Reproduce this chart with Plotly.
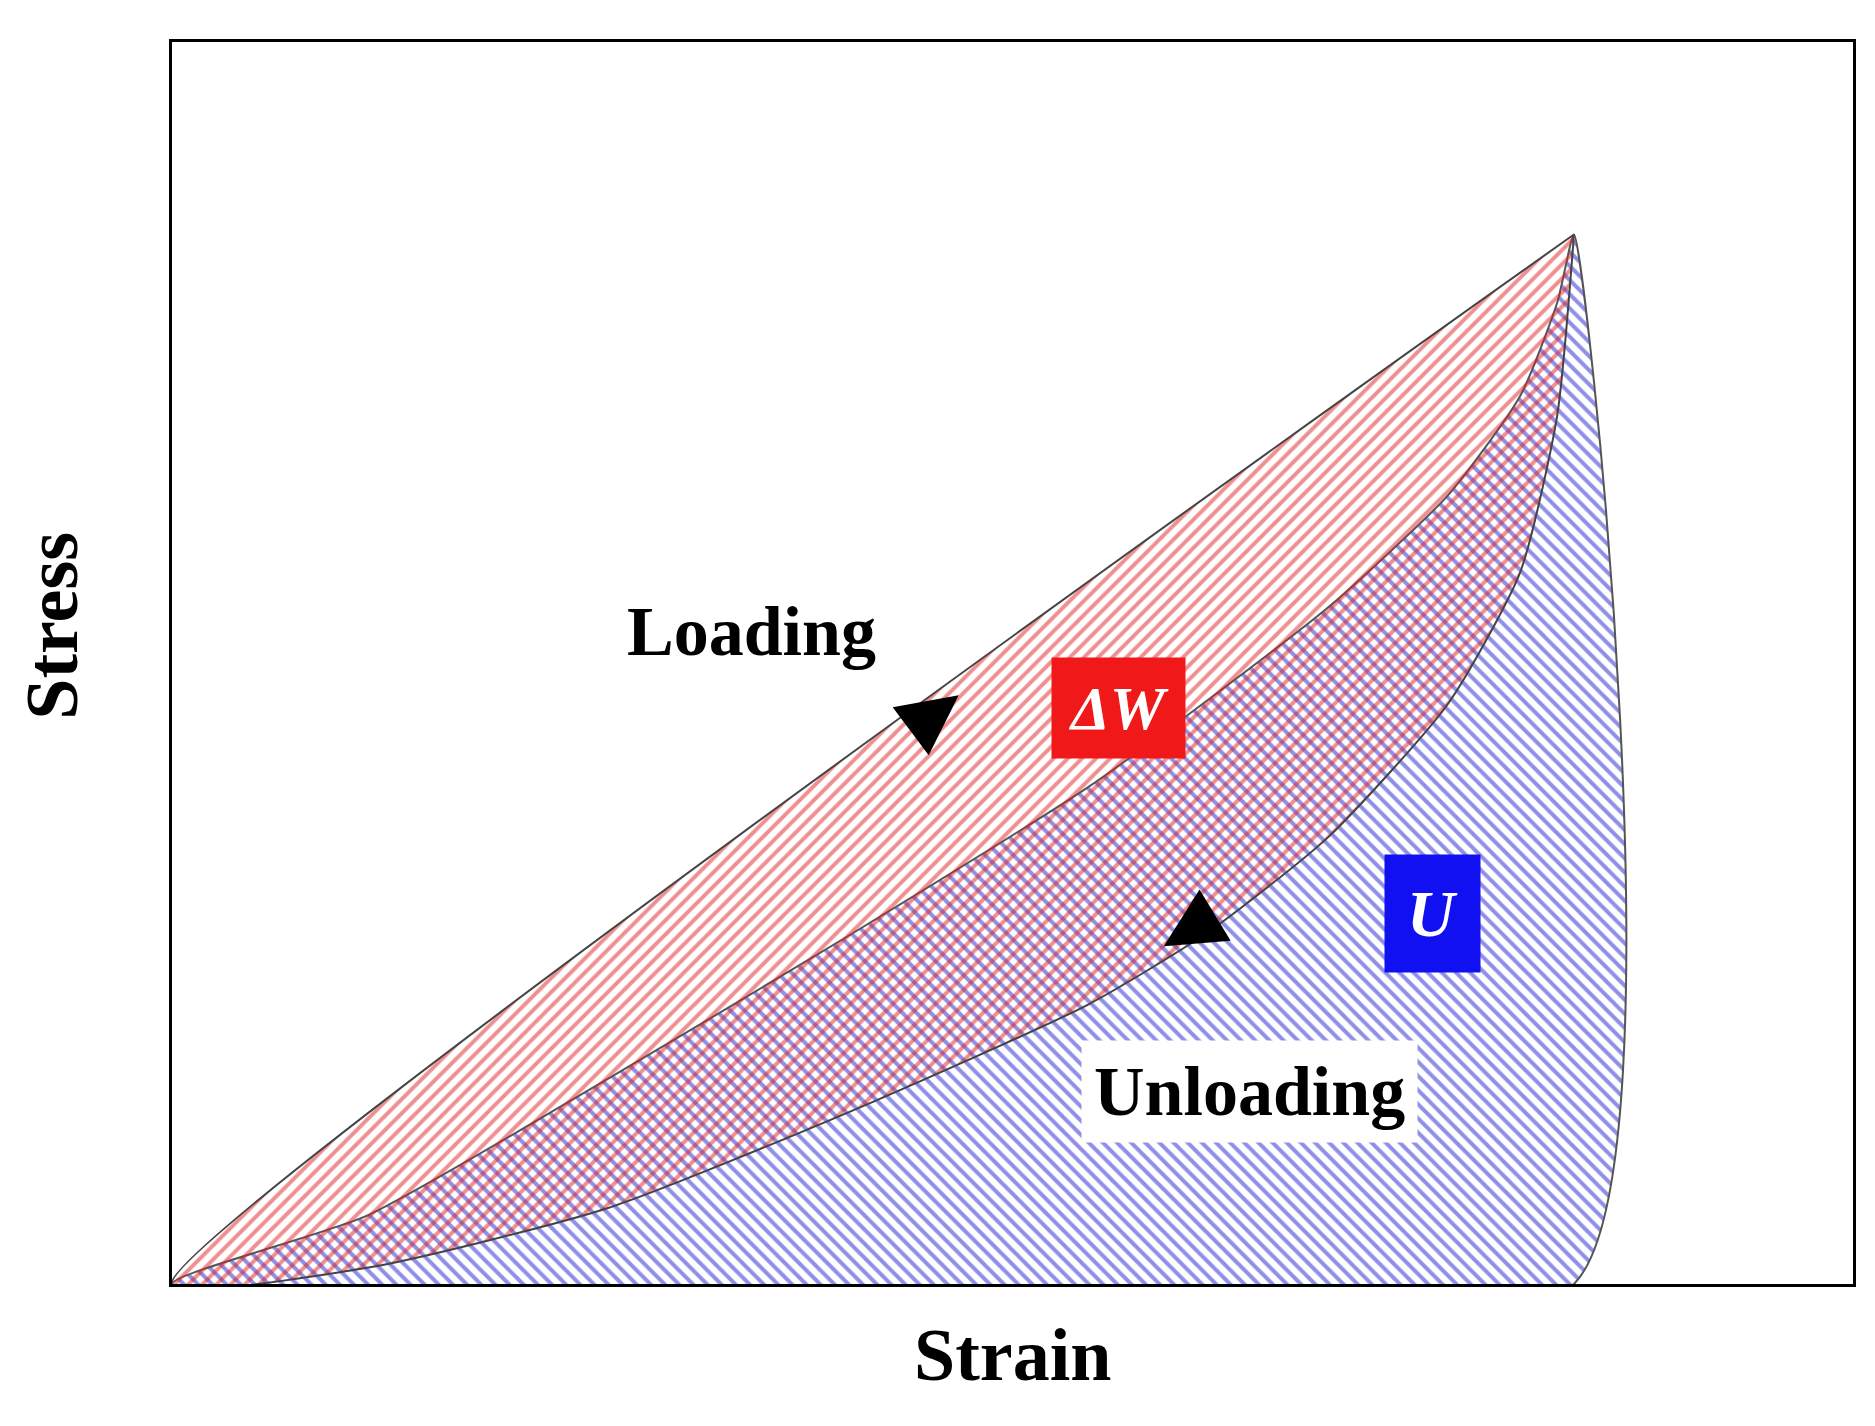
import plotly.graph_objects as go

# strain / stress values (axes 0..1)
peak_x = 0.834
peak_y = 0.845
curve_x = [0, 0.116, 0.259, 0.402, 0.545, 0.616, 0.688, 0.759, 0.802, 0.824, 0.834]
upper_y = [0, 0.055, 0.165, 0.28, 0.40, 0.47, 0.545, 0.635, 0.715, 0.79, 0.845]
lower_y = [0, 0.013, 0.061, 0.138, 0.225, 0.283, 0.360, 0.467, 0.573, 0.699, 0.845]

serif = "Liberation Serif"
fig = go.Figure()

# blue region (U): below upper curve
fig.add_trace(go.Scatter(
    x=curve_x + [peak_x, 0], y=upper_y + [0, 0],
    fill="toself", mode="lines", line=dict(color="#555", width=2, shape="spline", smoothing=0.6),
    fillcolor="rgba(0,0,0,0)",
    fillpattern=dict(shape="\\", fgcolor="#2020d0", bgcolor="rgba(255,255,255,0)", size=10, solidity=0.4),
    showlegend=False, hoverinfo="skip"))

# red region (dW): between loading line and unloading curve
fig.add_trace(go.Scatter(
    x=[0, peak_x] + curve_x[::-1], y=[0, peak_y] + lower_y[::-1],
    fill="toself", mode="lines", line=dict(color="#444", width=2, shape="spline", smoothing=0.6),
    fillcolor="rgba(0,0,0,0)",
    fillpattern=dict(shape="/", fgcolor="#e02020", bgcolor="rgba(255,255,255,0)", size=10, solidity=0.4),
    showlegend=False, hoverinfo="skip"))

# arrow heads
fig.add_annotation(x=0.468, y=0.474, ax=-24, ay=18, showarrow=True, arrowhead=2,
                   arrowsize=3, arrowwidth=4, arrowcolor="black", text="")
fig.add_annotation(x=0.59, y=0.272, ax=28, ay=-17, showarrow=True, arrowhead=2,
                   arrowsize=3, arrowwidth=4, arrowcolor="black", text="")

fig.add_annotation(x=0.345, y=0.525, text="<b>Loading</b>", showarrow=False,
                   font=dict(family=serif, size=70, color="black"))
fig.add_annotation(x=0.563, y=0.464, text="<b><i>ΔW</i></b>", showarrow=False,
                   font=dict(family=serif, size=62, color="white"),
                   bgcolor="#f01818", borderpad=16)
fig.add_annotation(x=0.75, y=0.298, text="<b><i>U</i></b>", showarrow=False,
                   font=dict(family=serif, size=66, color="white"),
                   bgcolor="#1010f0", borderpad=22)
fig.add_annotation(x=0.641, y=0.155, text="<b>Unloading</b>", showarrow=False,
                   font=dict(family=serif, size=70, color="black"),
                   bgcolor="white", borderpad=12)
fig.add_annotation(x=0.5, y=-0.092, xref="paper", yref="paper", text="<b>Strain</b>",
                   showarrow=False, font=dict(family=serif, size=74, color="black"))
fig.add_annotation(x=-0.097, y=0.53, xref="paper", yref="paper", text="<b>Stress</b>",
                   showarrow=False, textangle=-90, font=dict(family=serif, size=74, color="black"))

fig.update_xaxes(range=[0, 1], showticklabels=False, showgrid=False, zeroline=False,
                 showline=True, linecolor="black", linewidth=3, mirror=True)
fig.update_yaxes(range=[0, 1], showticklabels=False, showgrid=False, zeroline=False,
                 showline=True, linecolor="black", linewidth=3, mirror=True)
fig.update_layout(width=1875, height=1426, plot_bgcolor="white", paper_bgcolor="white",
                  margin=dict(l=164, r=30, t=34, b=150))
fig.write_html("out.html")
